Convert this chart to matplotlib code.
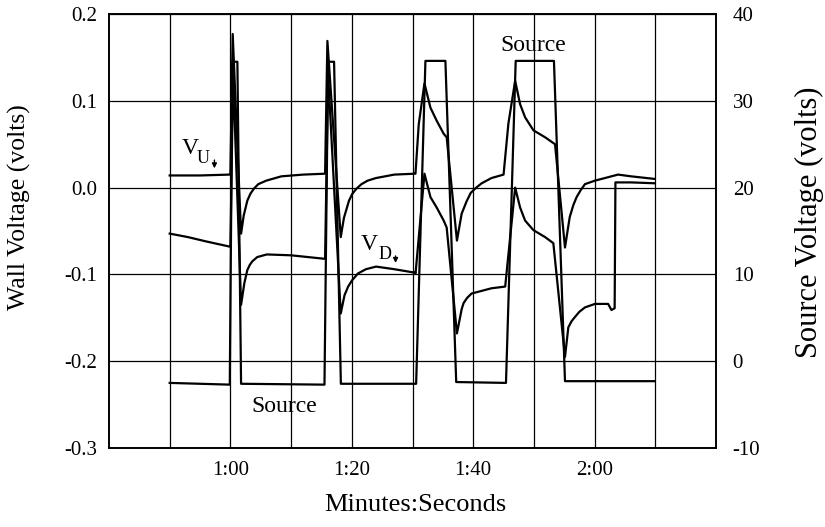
import matplotlib
matplotlib.use('Agg')
from matplotlib import pyplot as plt

# time in seconds (1:00 = 60 s)
vu_t = [50.0, 55.0, 59.9, 60.0, 60.38, 61.76, 62.2, 62.79, 63.3, 63.9, 64.6, 65.9, 68.4, 72.0, 75.5,
        75.6, 75.98, 78.18, 78.7, 79.54, 80.1, 80.8, 81.6, 82.6, 83.97, 87.0, 90.3,
        90.49, 91.03, 91.97, 92.96, 93.99, 95.14, 95.63, 97.32, 98.1, 98.9, 99.6, 100.5, 101.4, 103.0, 105.0,
        105.8, 106.91, 107.73, 108.55, 109.92, 111.84, 113.48, 115.12, 115.9, 116.5, 117.03, 117.7, 118.41,
        120.05, 122.23, 123.87, 126.0, 129.9]
vu_v = [0.014, 0.014, 0.015, 0.016, 0.177, -0.053, -0.032, -0.015, -0.007, -0.001, 0.004, 0.008, 0.013, 0.015, 0.016,
        0.016, 0.169, -0.057, -0.035, -0.015, -0.007, -0.001, 0.004, 0.008, 0.011, 0.015, 0.016,
        0.016, 0.073, 0.120, 0.092, 0.077, 0.062, 0.058, -0.061, -0.030, -0.016, -0.006, 0.000, 0.005, 0.011, 0.015,
        0.074, 0.123, 0.096, 0.081, 0.066, 0.058, 0.050, -0.069, -0.034, -0.020, -0.011, -0.003, 0.004,
        0.008, 0.012, 0.015, 0.013, 0.010]

vd_t = [50.0, 53.0, 56.0, 59.9, 60.0, 60.45, 61.76, 62.3, 62.79, 63.2, 63.6, 64.43, 66.0, 70.0, 75.5,
        75.6, 76.1, 78.18, 78.8, 79.4, 80.03, 81.0, 82.33, 84.0, 87.0, 90.4,
        90.5, 91.97, 92.96, 93.99, 95.14, 95.63, 97.32, 98.1, 98.42, 99.0, 99.74, 101.38, 103.0, 105.27,
        106.91, 107.73, 108.55, 109.92, 111.84, 113.2, 115.12, 115.67, 116.2, 116.77, 117.5, 118.41, 120.05,
        122.23, 122.77, 123.3, 123.43, 126.0, 129.9]
vd_v = [-0.053, -0.057, -0.062, -0.068, -0.068, 0.130, -0.135, -0.110, -0.095, -0.089, -0.085, -0.080, -0.077, -0.078, -0.082,
        -0.082, 0.130, -0.145, -0.124, -0.114, -0.107, -0.099, -0.094, -0.091, -0.094, -0.098,
        -0.099, 0.016, -0.011, -0.023, -0.038, -0.046, -0.168, -0.140, -0.133, -0.127, -0.122, -0.119, -0.116, -0.114,
        0.000, -0.023, -0.038, -0.049, -0.057, -0.064, -0.195, -0.161, -0.154, -0.149, -0.143, -0.138, -0.134,
        -0.134, -0.141, -0.139, 0.006, 0.006, 0.005]

src_t = [50.0, 59.9, 60.33, 61.15, 61.76, 75.5, 76.09, 77.08, 78.2, 90.6, 92.13, 95.42, 97.2,
         105.4, 107.0, 113.3, 115.12, 129.9]
src_v = [-2.5, -2.7, 34.5, 34.5, -2.6, -2.7, 34.5, 34.5, -2.6, -2.6, 34.6, 34.6, -2.4,
         -2.5, 34.6, 34.6, -2.3, -2.3]

x_ticks = [50, 60, 70, 80, 90, 100, 110, 120, 130]
x_labels = ['', '1:00', '', '1:20', '', '1:40', '', '2:00', '']
left_ticks = [-0.3, -0.2, -0.1, 0.0, 0.1, 0.2]
left_labels = ['-0.3', '-0.2', '-0.1', '0.0', '0.1', '0.2']
right_ticks = [-10, 0, 10, 20, 30, 40]
right_labels = ['-10', '0', '10', '20', '30', '40']

plt.rcParams['font.family'] = ['Liberation Serif', 'DejaVu Serif']

fig = plt.figure(figsize=(8.25, 5.27), dpi=100)
ax = fig.add_axes([0.1321, 0.1499, 0.7358, 0.8235])
ax2 = ax.twinx()

ax.plot(vu_t, vu_v, color='black', linewidth=1.6)
ax.plot(vd_t, vd_v, color='black', linewidth=1.6)
ax2.plot(src_t, src_v, color='black', linewidth=1.6)

ax.set_xlim(40, 140)
ax.set_ylim(-0.3, 0.2)
ax2.set_ylim(-10, 40)

ax.set_xticks(x_ticks)
ax.set_xticklabels(x_labels, fontsize=15)
ax.set_yticks(left_ticks)
ax.set_yticklabels(left_labels, fontsize=15)
ax2.set_yticks(right_ticks)
ax2.set_yticklabels(right_labels, fontsize=15)

ax.tick_params(axis='x', length=0, pad=9)
ax.tick_params(axis='y', length=0, pad=8.5)
ax2.tick_params(axis='y', length=0, pad=12)
ax.grid(True, color='black', linewidth=0.9)
for a in (ax, ax2):
    for s in a.spines.values():
        s.set_linewidth(1.2)

# trace labels
ax.text(51.95, 0.0391, 'V', fontsize=17)
ax.text(54.42, 0.0287, 'U', fontsize=13)
ax.annotate('', xy=(57.37, 0.0190), xytext=(57.37, 0.0350),
            arrowprops=dict(arrowstyle='-|>', color='black', lw=1, mutation_scale=7))
ax.text(81.46, -0.0724, 'V', fontsize=17)
ax.text(84.47, -0.082, 'D', fontsize=13)
ax.annotate('', xy=(87.21, -0.0900), xytext=(87.21, -0.0755),
            arrowprops=dict(arrowstyle='-|>', color='black', lw=1, mutation_scale=7))
ax.text(109.92, 0.1575, 'Source', fontsize=17, ha='center')
ax.text(68.87, -0.2583, 'Source', fontsize=17, ha='center')

fig.text(0.024, 0.607, 'Wall Voltage (volts)', rotation=90, fontsize=18.5, ha='center', va='center')
fig.text(0.981, 0.579, 'Source Voltage (volts)', rotation=90, fontsize=22, ha='center', va='center')
fig.text(0.503, 0.0304, 'Minutes:Seconds', fontsize=19, ha='center', va='baseline')

plt.savefig('out.png', dpi=100)
plt.close(fig)
